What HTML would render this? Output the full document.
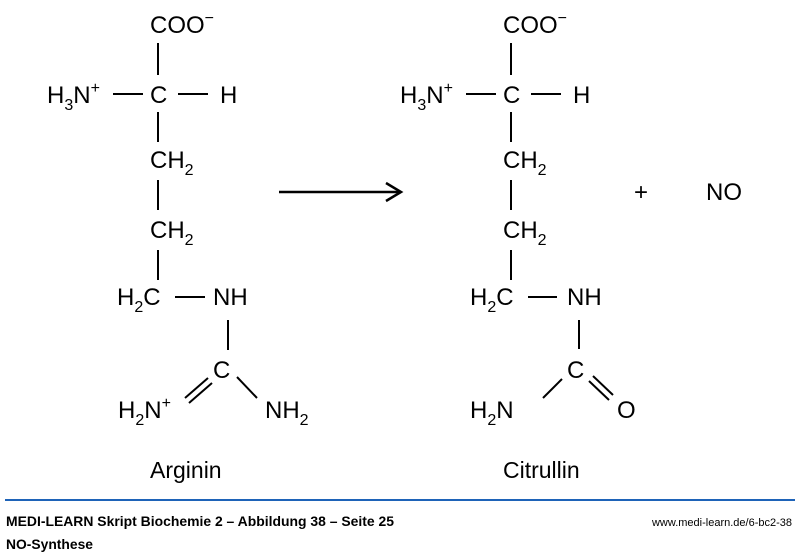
<!DOCTYPE html>
<html><head><meta charset="utf-8"><style>
body{margin:0;background:#fff;width:800px;height:554px;overflow:hidden}
svg text{font-family:"Liberation Sans",Arial,sans-serif;fill:#000}
.t{font-size:24px}
.s{font-size:16px}
.f{font-family:"Liberation Sans",sans-serif;font-weight:bold;font-size:14px}
</style></head><body>
<svg width="800" height="554" xmlns="http://www.w3.org/2000/svg">
<g stroke="#000" stroke-width="2" fill="none">
<line x1="158" y1="43" x2="158" y2="75"/>
<line x1="113" y1="94" x2="143" y2="94"/>
<line x1="178" y1="94" x2="208" y2="94"/>
<line x1="158" y1="112" x2="158" y2="142"/>
<line x1="158" y1="180" x2="158" y2="210"/>
<line x1="158" y1="250" x2="158" y2="280"/>
<line x1="175" y1="297" x2="205" y2="297"/>
<line x1="228" y1="320" x2="228" y2="350"/>
<line x1="185" y1="398" x2="208" y2="378"/>
<line x1="189" y1="403" x2="212" y2="383"/>
<line x1="237" y1="377" x2="257" y2="398"/>
<line x1="511" y1="43" x2="511" y2="75"/>
<line x1="466" y1="94" x2="496" y2="94"/>
<line x1="531" y1="94" x2="561" y2="94"/>
<line x1="511" y1="112" x2="511" y2="142"/>
<line x1="511" y1="180" x2="511" y2="210"/>
<line x1="511" y1="250" x2="511" y2="280"/>
<line x1="528" y1="297" x2="557" y2="297"/>
<line x1="579" y1="320" x2="579" y2="349"/>
<line x1="543" y1="398" x2="562" y2="379"/>
<line x1="589" y1="381" x2="609" y2="400"/>
<line x1="593" y1="376" x2="613" y2="395"/>
<line x1="279" y1="192" x2="400" y2="192" stroke-width="2.5"/>
<polyline points="386,183 401,192 386,201" stroke-width="2.5"/>
</g>
<g class="t">
<text x="150" y="33">COO<tspan dy="-10" class="s">−</tspan></text>
<text x="47" y="103">H<tspan dy="7" class="s">3</tspan><tspan dy="-7">N</tspan><tspan dy="-10" class="s">+</tspan></text>
<text x="150" y="103">C</text><text x="220" y="103">H</text>
<text x="150" y="168">CH<tspan dy="7" class="s">2</tspan></text>
<text x="150" y="238">CH<tspan dy="7" class="s">2</tspan></text>
<text x="117" y="305">H<tspan dy="7" class="s">2</tspan><tspan dy="-7">C</tspan></text>
<text x="213" y="305">NH</text>
<text x="213" y="378">C</text>
<text x="118" y="418">H<tspan dy="7" class="s">2</tspan><tspan dy="-7">N</tspan><tspan dy="-10" class="s">+</tspan></text>
<text x="265" y="418">NH<tspan dy="7" class="s">2</tspan></text>
<text x="150" y="478" style="font-size:23px">Arginin</text>
<text x="503" y="33">COO<tspan dy="-10" class="s">−</tspan></text>
<text x="400" y="103">H<tspan dy="7" class="s">3</tspan><tspan dy="-7">N</tspan><tspan dy="-10" class="s">+</tspan></text>
<text x="503" y="103">C</text><text x="573" y="103">H</text>
<text x="503" y="168">CH<tspan dy="7" class="s">2</tspan></text>
<text x="503" y="238">CH<tspan dy="7" class="s">2</tspan></text>
<text x="470" y="305">H<tspan dy="7" class="s">2</tspan><tspan dy="-7">C</tspan></text>
<text x="567" y="305">NH</text>
<text x="567" y="378">C</text>
<text x="470" y="418">H<tspan dy="7" class="s">2</tspan><tspan dy="-7">N</tspan></text>
<text x="617" y="418">O</text>
<text x="503" y="478" style="font-size:23px">Citrullin</text>
<text x="634" y="200">+</text>
<text x="706" y="200">NO</text>
</g>
<line x1="5" y1="500" x2="795" y2="500" stroke="#1e63b8" stroke-width="2"/>
<text class="f" x="6" y="526" textLength="388" lengthAdjust="spacingAndGlyphs">MEDI-LEARN Skript Biochemie 2 – Abbildung 38 – Seite 25</text>
<text class="f" x="6" y="549" textLength="87" lengthAdjust="spacingAndGlyphs">NO-Synthese</text>
<text x="792" y="526" text-anchor="end" style="font-size:11px">www.medi-learn.de/6-bc2-38</text>
</svg>
</body></html>
